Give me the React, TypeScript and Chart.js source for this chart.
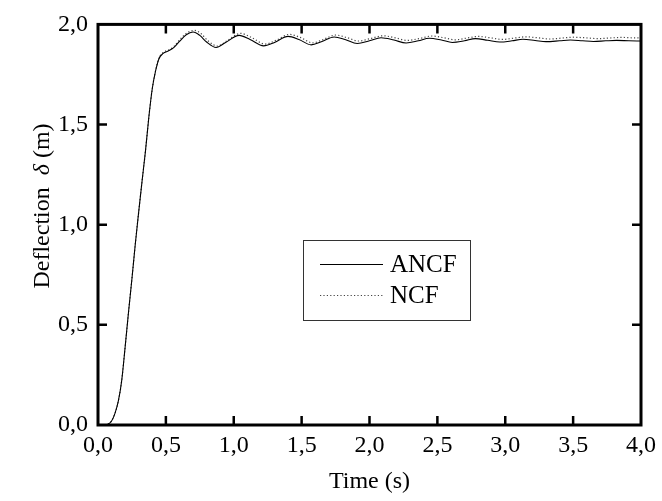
import { useEffect, useRef } from 'react';
import { Chart, registerables } from 'chart.js';

Chart.register(...registerables);

const X_TICK_VALUES = [0, 0.5, 1, 1.5, 2, 2.5, 3, 3.5, 4];
const Y_TICK_VALUES = [0, 0.5, 1, 1.5, 2];
const X_TICK_LABELS = ['0,0', '0,5', '1,0', '1,5', '2,0', '2,5', '3,0', '3,5', '4,0'];
const Y_TICK_LABELS = ['0,0', '0,5', '1,0', '1,5', '2,0'];

const SERIES_NAMES = ['ANCF', 'NCF'];

const T_ANCF = [0, 0.05, 0.07, 0.1, 0.125, 0.15, 0.175, 0.2, 0.225, 0.25, 0.275, 0.3, 0.325, 0.35, 0.375, 0.4, 0.425, 0.45, 0.48, 0.52, 0.56, 0.6, 0.65, 0.7, 0.75, 0.8, 0.87, 0.94, 1.04, 1.12, 1.22, 1.3, 1.4, 1.48, 1.57, 1.65, 1.74, 1.82, 1.91, 2.0, 2.085, 2.18, 2.27, 2.36, 2.44, 2.53, 2.61, 2.7, 2.78, 2.87, 2.96, 3.05, 3.13, 3.22, 3.3, 3.4, 3.48, 3.57, 3.65, 3.74, 3.82, 3.91, 4.0];
const V_ANCF = [0, 0, 0.003, 0.02, 0.058, 0.12, 0.224, 0.39, 0.565, 0.73, 0.905, 1.065, 1.22, 1.37, 1.54, 1.68, 1.77, 1.83, 1.855, 1.868, 1.885, 1.915, 1.948, 1.962, 1.945, 1.912, 1.885, 1.91, 1.945, 1.925, 1.893, 1.91, 1.94, 1.925, 1.898, 1.915, 1.937, 1.925, 1.905, 1.918, 1.933, 1.922, 1.907, 1.918, 1.931, 1.922, 1.91, 1.918, 1.929, 1.921, 1.912, 1.918, 1.926, 1.92, 1.914, 1.918, 1.922, 1.918, 1.915, 1.918, 1.92, 1.918, 1.917];

const T_NCF = [0, 0.05, 0.07, 0.1, 0.125, 0.15, 0.175, 0.2, 0.225, 0.25, 0.275, 0.3, 0.325, 0.35, 0.375, 0.4, 0.425, 0.45, 0.48, 0.52, 0.56, 0.6, 0.65, 0.71, 0.76, 0.81, 0.88, 0.95, 1.05, 1.13, 1.23, 1.31, 1.41, 1.49, 1.58, 1.66, 1.75, 1.83, 1.92, 2.01, 2.1, 2.19, 2.28, 2.37, 2.46, 2.55, 2.63, 2.72, 2.8, 2.89, 2.98, 3.07, 3.15, 3.24, 3.33, 3.42, 3.5, 3.59, 3.68, 3.77, 3.85, 3.94, 4.0];
const V_NCF = [0, 0, 0.003, 0.02, 0.058, 0.12, 0.224, 0.39, 0.565, 0.73, 0.905, 1.065, 1.22, 1.37, 1.54, 1.68, 1.772, 1.834, 1.86, 1.872, 1.89, 1.922, 1.955, 1.97, 1.953, 1.918, 1.892, 1.918, 1.955, 1.935, 1.902, 1.92, 1.95, 1.935, 1.908, 1.925, 1.947, 1.935, 1.917, 1.93, 1.943, 1.933, 1.92, 1.93, 1.942, 1.933, 1.923, 1.932, 1.94, 1.933, 1.925, 1.932, 1.938, 1.933, 1.927, 1.932, 1.936, 1.933, 1.929, 1.932, 1.935, 1.933, 1.932];

const FONT = '"Liberation Serif", "DejaVu Serif", serif';
const FS = 24;

const fmt = (vals: number[], labels: string[]) => (v: number | string) => {
  const i = vals.findIndex((x) => Math.abs(x - Number(v)) < 1e-9);
  return i >= 0 ? labels[i] : '';
};

const framePlugin = {
  id: 'frameAndDecor',
  afterDraw(chart: any) {
    const { ctx, chartArea, scales } = chart;
    const { left, right, top, bottom } = chartArea;
    const xs = scales.x;
    const ys = scales.y;
    ctx.save();
    ctx.strokeStyle = '#000';
    ctx.lineWidth = 2.5;
    const tl = 9;
    X_TICK_VALUES.forEach((v) => {
      if (v <= xs.min || v >= xs.max) return;
      const px = xs.getPixelForValue(v);
      ctx.beginPath();
      ctx.moveTo(px, bottom);
      ctx.lineTo(px, bottom - tl);
      ctx.moveTo(px, top);
      ctx.lineTo(px, top + tl);
      ctx.stroke();
    });
    Y_TICK_VALUES.forEach((v) => {
      if (v <= ys.min || v >= ys.max) return;
      const py = ys.getPixelForValue(v);
      ctx.beginPath();
      ctx.moveTo(left, py);
      ctx.lineTo(left + tl, py);
      ctx.moveTo(right, py);
      ctx.lineTo(right - tl, py);
      ctx.stroke();
    });
    ctx.lineWidth = 3;
    ctx.strokeRect(left, top, right - left, bottom - top);

    ctx.fillStyle = '#000';
    ctx.font = `${FS}px ${FONT}`;
    ctx.textAlign = 'center';
    ctx.textBaseline = 'alphabetic';
    ctx.fillText('Time (s)', (left + right) / 2, 488);

    ctx.save();
    ctx.translate(49, 206);
    ctx.rotate(-Math.PI / 2);
    ctx.textAlign = 'left';
    const p1 = 'Deflection  ';
    const p2 = 'δ';
    const p3 = ' (m)';
    ctx.font = `${FS}px ${FONT}`;
    const w1 = ctx.measureText(p1).width;
    const w3 = ctx.measureText(p3).width;
    ctx.font = `italic ${FS}px ${FONT}`;
    const w2 = ctx.measureText(p2).width;
    let x0 = -(w1 + w2 + w3) / 2;
    ctx.font = `${FS}px ${FONT}`;
    ctx.fillText(p1, x0, 0);
    x0 += w1;
    ctx.font = `italic ${FS}px ${FONT}`;
    ctx.fillText(p2, x0, 0);
    x0 += w2;
    ctx.font = `${FS}px ${FONT}`;
    ctx.fillText(p3, x0, 0);
    ctx.restore();

    const lx = 303, ly = 240, lw = 167, lh = 80;
    ctx.fillStyle = '#fff';
    ctx.fillRect(lx, ly, lw, lh);
    ctx.strokeStyle = '#333';
    ctx.lineWidth = 1;
    ctx.strokeRect(lx + 0.5, ly + 0.5, lw, lh);
    const rows = [264, 295];
    chart.data.datasets.forEach((ds: any, i: number) => {
      const yy = rows[i] + 0.5;
      ctx.strokeStyle = ds.borderColor;
      ctx.lineWidth = ds.borderWidth;
      ctx.setLineDash(ds.borderDash || []);
      ctx.beginPath();
      ctx.moveTo(320, yy);
      ctx.lineTo(383, yy);
      ctx.stroke();
      ctx.setLineDash([]);
      ctx.fillStyle = '#000';
      ctx.font = `25px ${FONT}`;
      ctx.textAlign = 'left';
      ctx.textBaseline = 'middle';
      ctx.fillText(ds.label, 390, rows[i] + 1);
    });
    ctx.restore();
  },
};

export default function App() {
  const ref = useRef<HTMLCanvasElement | null>(null);
  useEffect(() => {
    if (!ref.current) return;
    const chart = new Chart(ref.current, {
      type: 'line',
      data: {
        datasets: [
          {
            label: SERIES_NAMES[0],
            data: T_ANCF.map((t, i) => ({ x: t, y: V_ANCF[i] })),
            borderColor: '#000',
            borderWidth: 1.1,
            pointRadius: 0,
            cubicInterpolationMode: 'monotone',
            fill: false,
          },
          {
            label: SERIES_NAMES[1],
            data: T_NCF.map((t, i) => ({ x: t, y: V_NCF[i] })),
            borderColor: '#444',
            borderWidth: 1.2,
            borderDash: [1.2, 2.2],
            pointRadius: 0,
            cubicInterpolationMode: 'monotone',
            fill: false,
          },
        ],
      },
      options: {
        animation: false,
        responsive: true,
        maintainAspectRatio: false,
        layout: { padding: { left: 0, right: 19, top: 23, bottom: 0 } },
        plugins: { legend: { display: false }, tooltip: { enabled: false } },
        scales: {
          x: {
            type: 'linear',
            min: 0,
            max: 4,
            afterBuildTicks: (s: any) => {
              s.ticks = X_TICK_VALUES.map((v) => ({ value: v }));
            },
            afterFit: (s: any) => {
              s.height = 76;
            },
            grid: { display: false, drawTicks: false },
            border: { display: false },
            ticks: {
              color: '#000',
              font: { family: FONT, size: FS },
              padding: 6,
              maxRotation: 0,
              autoSkip: false,
              callback: fmt(X_TICK_VALUES, X_TICK_LABELS),
            },
          },
          y: {
            type: 'linear',
            min: 0,
            max: 2,
            afterBuildTicks: (s: any) => {
              s.ticks = Y_TICK_VALUES.map((v) => ({ value: v }));
            },
            afterFit: (s: any) => {
              s.width = 98;
            },
            grid: { display: false, drawTicks: false },
            border: { display: false },
            ticks: {
              color: '#000',
              font: { family: FONT, size: FS },
              padding: 10,
              autoSkip: false,
              callback: fmt(Y_TICK_VALUES, Y_TICK_LABELS),
            },
          },
        },
      },
      plugins: [framePlugin],
    });
    return () => chart.destroy();
  }, []);
  return (
    <div style={{ position: 'fixed', left: 0, top: 0, width: 662, height: 501, background: '#fff' }}>
      <canvas ref={ref} />
    </div>
  );
}
